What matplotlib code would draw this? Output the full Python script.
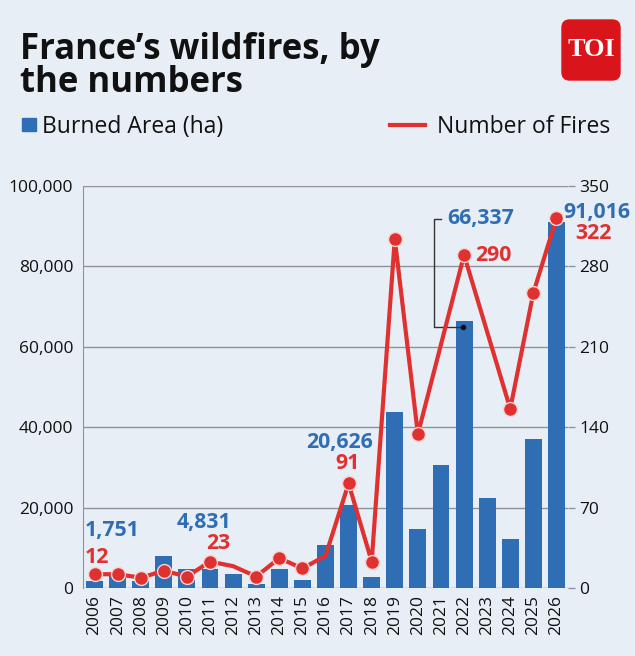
import matplotlib
matplotlib.use('Agg')
import matplotlib.pyplot as plt
import numpy as np
from matplotlib.patches import FancyBboxPatch, Rectangle
from matplotlib.lines import Line2D

years = [str(y) for y in range(2006, 2027)]
burned = [1751, 2900, 1650, 8000, 4800, 4831, 3500, 900, 4800, 2000, 10800,
          20626, 2700, 43700, 14600, 30700, 66337, 22400, 12300, 37000, 91016]
fires = [12, 12, 9, 15, 10, 23, 19, 10, 26, 17, 28,
         91, 23, 304, 134, 212, 290, 223, 156, 257, 322]
no_marker = ['2012', '2016', '2021', '2023']

bg = '#E8EEF5'
blue = '#2F6EB5'
red = '#E03131'
grid_c = '#8E939B'
font = 'Open Sans'
plt.rcParams['font.family'] = [font, 'DejaVu Sans']

fig = plt.figure(figsize=(6.35, 6.56), dpi=100, facecolor=bg)
ax = fig.add_axes([83/635, 68/656, 485/635, 402/656])
ax.set_facecolor(bg)
ax2 = ax.twinx()

x = np.arange(len(years))
ax.bar(x, burned, width=0.73, color=blue, zorder=2)
ax.set_xlim(-0.5, len(years) - 0.5)
ax.set_ylim(0, 100000)
ax.set_yticks(np.arange(0, 100001, 20000))
ax.set_yticklabels(['{:,}'.format(v) for v in range(0, 100001, 20000)])
ax.set_xticks(x)
ax.set_xticklabels(years, rotation=90)
ax.yaxis.grid(True, color=grid_c, linewidth=1)
ax.set_axisbelow(True)
for s in ['top', 'right', 'bottom']:
    ax.spines[s].set_visible(False)
ax.spines['left'].set_color(grid_c)
ax.tick_params(axis='y', length=0, pad=7, labelsize=12.5, labelcolor='#111111')
ax.tick_params(axis='x', length=0, pad=5, labelsize=12.5, labelcolor='#111111')

marks = [i for i, y in enumerate(years) if y not in no_marker]
ax2.plot(x, fires, color=red, linewidth=3, marker='o', markersize=10,
         markevery=marks, markeredgecolor='#F6D4D2', markeredgewidth=1, zorder=3)
ax2.set_ylim(0, 350)
ax2.set_yticks(np.arange(0, 351, 70))
for s in ['top', 'right', 'bottom', 'left']:
    ax2.spines[s].set_visible(False)
ax2.tick_params(axis='y', length=5, width=1, color=grid_c, pad=3,
                labelsize=12.5, labelcolor='#111111')

# value labels
lab = dict(fontsize=15.3, fontweight='bold', va='center')
ax.text(-0.41, 14400, '1,751', color=blue, ha='left', **lab)
ax.text(-0.41, 7700, '12', color=red, ha='left', **lab)
ax.text(4.76, 16400, '4,831', color=blue, ha='center', **lab)
ax.text(5.34, 10950, '23', color=red, ha='center', **lab)
ax.text(10.6, 36300, '20,626', color=blue, ha='center', **lab)
ax.text(10.97, 30850, '91', color=red, ha='center', **lab)
ax.text(15.26, 91800, '66,337', color=blue, ha='left', **lab)
ax.text(16.47, 82800, '290', color=red, ha='left', **lab)
ax.text(23.22, 93500, '91,016', color=blue, ha='right', clip_on=False, **lab)
ax.text(20.8, 88060, '322', color=red, ha='left', clip_on=False, **lab)

# leader line for 2022
ax.plot([15.0, 14.69, 14.69, 15.95], [91800, 91800, 64900, 64900],
        color='#333333', linewidth=1, zorder=4)
ax.plot([15.95], [64900], 'o', color='#111111', markersize=3, zorder=4)

# title
fig.text(20/635, 1 - 59/656, 'France\u2019s wildfires, by', fontsize=25,
         fontweight='bold', color='#111111', va='baseline', ha='left')
fig.text(20/635, 1 - 92/656, 'the numbers', fontsize=25,
         fontweight='bold', color='#111111', va='baseline', ha='left')

# legend
fig.patches.append(Rectangle((22/635, 1 - 131/656), 14/635, 13/656,
                             transform=fig.transFigure, color=blue))
fig.text(42/635, 1 - 133/656, 'Burned Area (ha)', fontsize=16.5,
         va='baseline', ha='left', color='#111111')
fig.lines.append(Line2D([390/635, 425/635], [1 - 125/656, 1 - 125/656],
                        transform=fig.transFigure, color=red, linewidth=3))
fig.text(437/635, 1 - 133/656, 'Number of Fires', fontsize=16.5,
         va='baseline', ha='left', color='#111111')

# TOI logo
fig.patches.append(FancyBboxPatch((562/635, 1 - 80/656), 58/635, 60/656,
                                  boxstyle='round,pad=0,rounding_size=0.012',
                                  transform=fig.transFigure, color='#D9141B'))
fig.text(591/635, 1 - 50/656, 'TOI', fontsize=19, fontweight='bold',
         family='Liberation Serif', color='white', ha='center', va='center')

fig.savefig('out.png', dpi=100, facecolor=bg)
